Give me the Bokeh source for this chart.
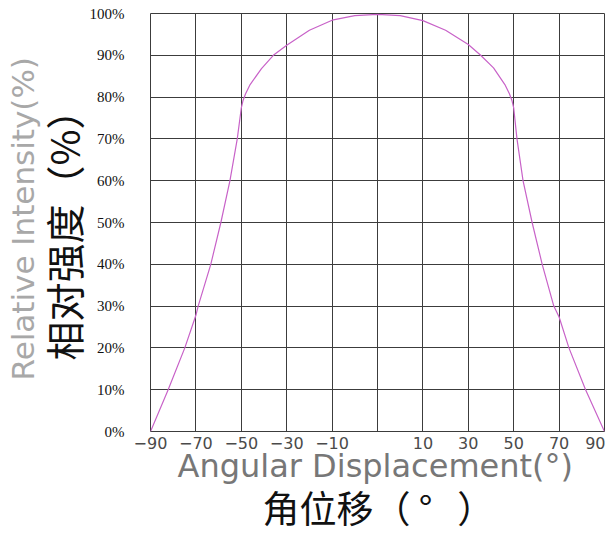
from bokeh.plotting import figure
from bokeh.models import FixedTicker, Title, Range1d
from bokeh.embed import file_html
from bokeh.resources import INLINE

# grid-line positions of the x axis and the labels printed under them
x_grid = [-90, -72, -54, -36, -18, 0, 18, 36, 54, 72, 90]
x_labels = ["−90", "−70", "−50", "−30", "−10", "", "10", "30", "50", "70", "90"]
y_grid = [0, 10, 20, 30, 40, 50, 60, 70, 80, 90, 100]
y_labels = ["0%", "10%", "20%", "30%", "40%", "50%", "60%", "70%", "80%", "90%", "100%"]

# curve (x in grid coordinates, y in %)
angle = [-90, -83, -76.4, -72, -71.1, -66.1, -62.1, -58.5, -55.6, -54, -53.3, -52.3, -50.5,
         -46, -41.3, -36, -27, -18, -9, 0, 9, 18, 27, 36, 40.9, 46, 50.5, 52.3, 53.3, 54,
         55.3, 57.7, 61.3, 65.3, 69.9, 72, 75.9, 82.5, 90]
intensity = [0, 10, 20, 27.8, 30, 40, 50, 60, 70, 77.4, 79.2, 80.8, 83,
             86.8, 90, 92.4, 96, 98.4, 99.5, 99.8, 99.5, 98.3, 96, 92.6, 90, 87, 83, 80.8, 79.2, 77.4,
             70, 60, 50, 40, 30, 27.4, 20, 10, 0]

W, H = 605, 533
p = figure(width=W, height=H, output_backend="svg", toolbar_location=None,
           x_range=Range1d(-90, 90), y_range=Range1d(0, 100),
           min_border_left=150, min_border_right=1, min_border_top=13, min_border_bottom=100)
p.background_fill_color = "white"
p.border_fill_color = "white"
p.outline_line_color = "#3c3c3c"
p.outline_line_width = 1

grid_color = "#3c3c3c"
p.xgrid.ticker = FixedTicker(ticks=x_grid)
p.ygrid.ticker = FixedTicker(ticks=y_grid)
for g in (p.xgrid, p.ygrid):
    g.grid_line_color = grid_color
    g.grid_line_width = 1
    g.grid_line_alpha = 1.0

xa = p.xaxis[0]
xa.ticker = FixedTicker(ticks=x_grid)
xa.major_label_overrides = {t: l for t, l in zip(x_grid, x_labels)}
xa.axis_line_color = None
xa.major_tick_line_color = None
xa.minor_tick_line_color = None
xa.major_tick_out = 0
xa.major_tick_in = 0
xa.major_label_standoff = 5
xa.major_label_text_font = "DejaVu Sans"
xa.major_label_text_font_size = "16px"
xa.major_label_text_color = "#4a4a4a"

ya = p.yaxis[0]
ya.ticker = FixedTicker(ticks=y_grid)
ya.major_label_overrides = {t: l for t, l in zip(y_grid, y_labels)}
ya.axis_line_color = None
ya.major_tick_line_color = None
ya.minor_tick_line_color = None
ya.major_tick_out = 0
ya.major_tick_in = 0
ya.major_label_standoff = 26
ya.major_label_text_font = "Liberation Serif"
ya.major_label_text_font_size = "15px"
ya.major_label_text_color = "#111111"

p.line(angle, intensity, line_color="#c862c8", line_width=1.2)

# axis titles (stacked outward from the frame)
p.add_layout(Title(text="相对强度（%）", align="left", offset=71, standoff=-8,
                   text_font="Noto Sans CJK SC", text_font_size="39px",
                   text_font_style="normal", text_color="#111111"), "left")
p.add_layout(Title(text="Relative Intensity(%)", align="left", offset=51, standoff=-8,
                   text_font="DejaVu Sans", text_font_size="31px",
                   text_font_style="normal", text_color="#a8a8a8"), "left")
p.add_layout(Title(text="Angular Displacement(°)", align="left", offset=27, standoff=-14,
                   text_font="DejaVu Sans", text_font_size="32px",
                   text_font_style="normal", text_color="#777777"), "below")
p.add_layout(Title(text="角位移（\u00a0°\u00a0\u00a0\u00a0）", align="left", offset=112, standoff=0,
                   text_font="Noto Sans CJK SC", text_font_size="37px",
                   text_font_style="normal", text_color="#111111"), "below")

open("out.html", "w").write(file_html(p, INLINE))
